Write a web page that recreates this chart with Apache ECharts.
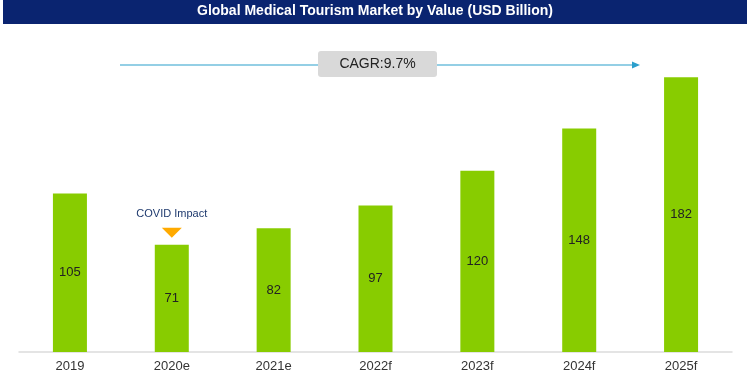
<!DOCTYPE html>
<html>
<head>
<meta charset="utf-8">
<script src="https://cdn.jsdelivr.net/npm/echarts@6/dist/echarts.min.js"></script>
<style>
  html, body { margin: 0; padding: 0; background: #fff; }
  #container { width: 750px; height: 375px; }
</style>
</head>
<body>
<div id="container"></div>
<script>
let years = ['2019', '2020e', '2021e', '2022f', '2023f', '2024f', '2025f'];
let marketValue = [105, 71, 82, 97, 120, 148, 182];
let cagrText = 'CAGR:9.7%';

let dom = document.getElementById("container");
let myChart = echarts.init(dom);

let option = {
    animation: false,
    textStyle: { fontFamily: 'Liberation Sans, Arial, sans-serif' },
    grid: {
        left: 19,
        right: 18,
        top: 50,
        bottom: 23
    },
    xAxis: {
        type: 'category',
        data: years,
        axisTick: { show: false },
        axisLine: { lineStyle: { color: '#dcdcdc', width: 1.5 } },
        axisLabel: { color: '#333', fontSize: 13, margin: 8 }
    },
    yAxis: {
        type: 'value',
        min: 0,
        max: 200,
        show: false,
        splitLine: { show: false }
    },
    series: [
        {
            type: 'bar',
            data: marketValue,
            barWidth: 34,
            itemStyle: { color: '#88cc00' },
            label: {
                show: true,
                position: 'inside',
                color: '#222',
                fontSize: 13
            },
            markPoint: {
                symbol: 'triangle',
                symbolRotate: 180,
                symbolSize: [20, 10],
                symbolOffset: [0, -12],
                itemStyle: { color: '#ffaa00' },
                label: {
                    show: true,
                    position: 'top',
                    distance: 8,
                    formatter: 'COVID Impact',
                    color: '#1f3a6e',
                    fontSize: 11
                },
                data: [{ coord: ['2020e', 71] }]
            }
        }
    ],
    graphic: [
        {
            type: 'rect',
            shape: { x: 3, y: 0, width: 744, height: 24 },
            style: { fill: '#0a2470' }
        },
        {
            type: 'text',
            left: 'center',
            top: 4,
            style: {
                text: 'Global Medical Tourism Market by Value (USD Billion)',
                fill: '#fff',
                font: 'bold 14px Liberation Sans, Arial, sans-serif'
            }
        },
        {
            type: 'line',
            shape: { x1: 120, y1: 65, x2: 634, y2: 65 },
            style: { stroke: '#2a9fcc', lineWidth: 1.2 }
        },
        {
            type: 'polygon',
            shape: { points: [[632, 61.5], [640, 65], [632, 68.5]] },
            style: { fill: '#2a9fcc' }
        },
        {
            type: 'rect',
            shape: { x: 318, y: 51, width: 119, height: 26, r: 3 },
            style: { fill: '#d9d9d9' }
        },
        {
            type: 'text',
            x: 377.5,
            y: 64,
            style: {
                text: cagrText,
                fill: '#222',
                font: '14px Liberation Sans, Arial, sans-serif',
                align: 'center',
                verticalAlign: 'middle'
            }
        }
    ]
};

if (option && typeof option === "object") {
    myChart.setOption(option, true);
}
</script>
</body>
</html>
